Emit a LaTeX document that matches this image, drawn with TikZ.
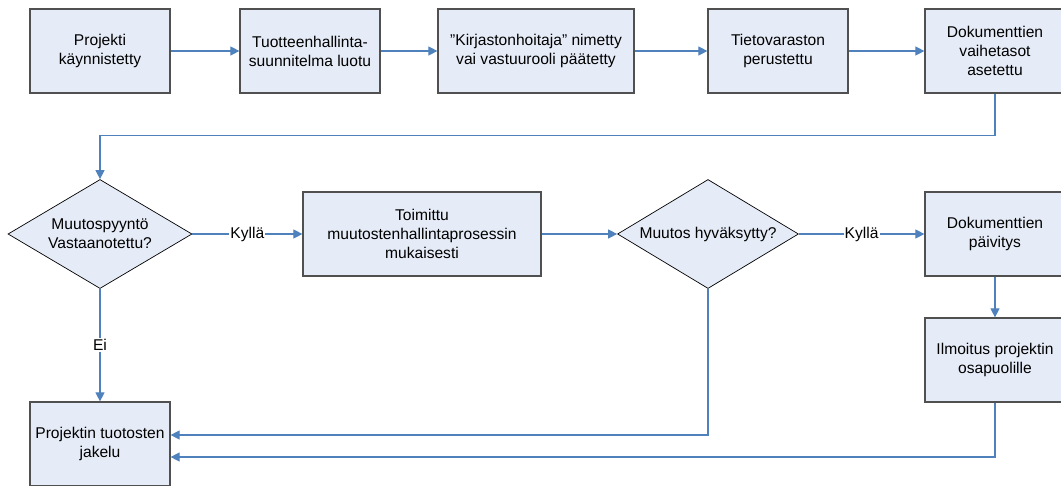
\documentclass[tikz,border=0pt]{standalone}
\usepackage{fontspec}
\setmainfont{Liberation Sans}
\usetikzlibrary{shapes.geometric, arrows.meta}
\definecolor{boxfill}{HTML}{E6ECF7}
\definecolor{boxline}{HTML}{505050}
\definecolor{linkblue}{HTML}{4F81BD}

\tikzset{
  stepbox/.style={draw=boxline, fill=boxfill, line width=1.2pt, minimum width=140pt, minimum height=84pt, align=center, inner sep=2pt},
  decision/.style={diamond, draw=black, fill=boxfill, line width=0.7pt, minimum width=184pt, minimum height=109pt, aspect=1.7, inner sep=0pt, align=center},
  link/.style={draw=linkblue, line width=1.1pt, -{Triangle[length=9pt,width=9pt]}},
  answer/.style={fill=white, inner sep=1pt}
}

\begin{document}
\begin{tikzpicture}[x=1pt, y=-1pt, font=\fontsize{15.6}{19}\selectfont]
\useasboundingbox (0,0) rectangle (1061,485);
\node [stepbox] (start) at (100,51) {Projekti\\käynnistetty};
\node [stepbox] (plan) at (310,51) {Tuotteenhallinta-\\suunnitelma luotu};
\node [stepbox, minimum width=196pt] (librarian) at (536,51) {”Kirjastonhoitaja” nimetty\\vai vastuurooli päätetty};
\node [stepbox] (repo) at (778,51) {Tietovaraston\\perustettu};
\node [stepbox] (levels) at (995,51) {Dokumenttien\\vaihetasot\\asetettu};
\node [decision] (request) at (100,234) {Muutospyyntö\\Vastaanotettu?};
\node [stepbox, minimum width=238pt] (process) at (422,234) {Toimittu\\muutostenhallintaprosessin\\mukaisesti};
\node [decision, minimum width=181pt] (approved) at (708,234) {Muutos hyväksytty?};
\node [stepbox] (update) at (995,234) {Dokumenttien\\päivitys};
\node [stepbox] (notify) at (995,360) {Ilmoitus projektin\\osapuolille};
\node [stepbox] (delivery) at (100,444) {Projektin tuotosten\\jakelu};

\draw [link] (start) -- (plan);
\draw [link] (plan) -- (librarian);
\draw [link] (librarian) -- (repo);
\draw [link] (repo) -- (levels);
\draw [link] (levels.south) -- ++(0,42) -| (request.north);
\draw [link] (request) -- node [answer] {Kyllä} (process);
\draw [link] (process) -- (approved);
\draw [link] (approved) -- node [answer] {Kyllä} (update);
\draw [link] (update) -- (notify);
\draw [link] (request) -- node [answer] {Ei} (delivery);
\draw [link] (approved.south) |- ([yshift=9pt]delivery.east);
\draw [link] (notify.south) |- ([yshift=-13pt]delivery.east);
\end{tikzpicture}
\end{document}
